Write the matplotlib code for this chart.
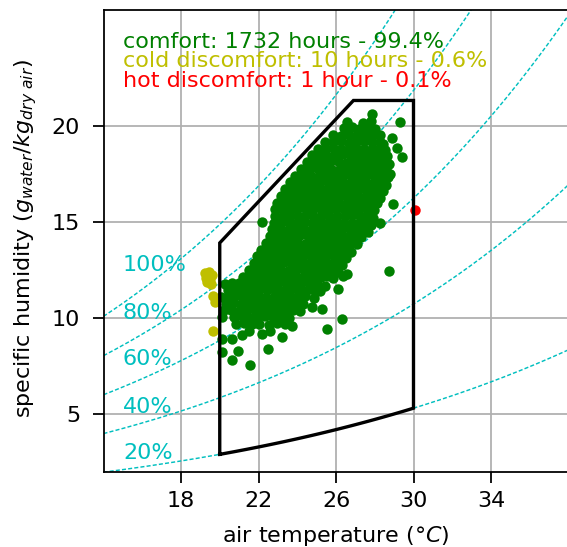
import numpy as np
import matplotlib
matplotlib.use("Agg")
import matplotlib.pyplot as plt

# ---------------- data ----------------
P_ATM = 100.0  # kPa
rh_levels = [20, 40, 60, 80, 100]
rh_labels = ["20%", "40%", "60%", "80%", "100%"]
rh_label_x = 15.0
rh_label_y = [2.68, 5.05, 7.56, 9.95, 12.46]

zone_t_min, zone_t_max = 20.0, 30.0
zone_left_top_w = 13.9
zone_top_corner_t = 26.9
zone_top_w = 21.3
zone_rh = 20

x_ticks = [18, 22, 26, 30, 34]
y_ticks = [5, 10, 15, 20]
x_lim = (14, 38)
y_lim = (2, 26)

comfort_upper = [
    (27.85, 20.62),
    (26.55, 20.2), (27.4, 20.15), (27.8, 20.25), (29.3, 20.2),
    (26.4, 19.85), (26.8, 19.9), (27.2, 19.82), (27.6, 19.88), (28.0, 19.8),
    (25.85, 19.5), (26.25, 19.45), (26.65, 19.52), (27.05, 19.48), (27.45, 19.5), (27.85, 19.45), (28.25, 19.52), (28.87, 19.35),
    (25.45, 19.15), (25.85, 19.12), (26.25, 19.18), (26.65, 19.1), (27.05, 19.15), (27.45, 19.2), (27.85, 19.12), (28.25, 19.15), (28.45, 19.05),
    (25.05, 18.8), (25.45, 18.78), (25.85, 18.84), (26.25, 18.8), (26.65, 18.76), (27.05, 18.82), (27.45, 18.8), (27.85, 18.78), (28.25, 18.85), (28.55, 18.75), (29.13, 18.83),
    (24.75, 18.45), (25.15, 18.48), (25.55, 18.42), (25.95, 18.45), (26.35, 18.5), (26.75, 18.44), (27.15, 18.46), (27.55, 18.42), (27.95, 18.48), (28.35, 18.45), (28.65, 18.4), (29.39, 18.35),
    (24.5, 18.1), (24.9, 18.12), (25.3, 18.08), (25.7, 18.1), (26.1, 18.14), (26.5, 18.06), (26.9, 18.1), (27.3, 18.12), (27.7, 18.08), (28.1, 18.1), (28.5, 18.12), (28.75, 18.0),
    (24.2, 17.75), (24.6, 17.72), (25.0, 17.78), (25.4, 17.75), (25.8, 17.7), (26.2, 17.76), (26.6, 17.74), (27.0, 17.78), (27.4, 17.72), (27.8, 17.75), (28.2, 17.78), (28.6, 17.7), (28.8, 17.5),
    (23.9, 17.4), (24.3, 17.42), (24.7, 17.38), (25.1, 17.4), (25.5, 17.44), (25.9, 17.36), (26.3, 17.4), (26.7, 17.42), (27.1, 17.38), (27.5, 17.4), (27.9, 17.44), (28.3, 17.38), (28.7, 17.3),
    (23.6, 17.05), (24.0, 17.08), (24.4, 17.02), (24.8, 17.05), (25.2, 17.1), (25.6, 17.04), (26.0, 17.06), (26.4, 17.02), (26.8, 17.08), (27.2, 17.05), (27.6, 17.02), (28.0, 17.06), (28.4, 17.04), (28.6, 16.9),
    (23.35, 16.7), (23.75, 16.72), (24.15, 16.68), (24.55, 16.7), (24.95, 16.74), (25.35, 16.66), (25.75, 16.7), (26.15, 16.72), (26.55, 16.68), (26.95, 16.7), (27.35, 16.74), (27.75, 16.68), (28.15, 16.7), (28.4, 16.6),
    (23.15, 16.35), (23.55, 16.38), (23.95, 16.32), (24.35, 16.35), (24.75, 16.4), (25.15, 16.34), (25.55, 16.36), (25.95, 16.32), (26.35, 16.38), (26.75, 16.35), (27.15, 16.32), (27.55, 16.36), (27.95, 16.34), (28.25, 16.25),
    (22.95, 16.0), (23.35, 16.02), (23.75, 15.98), (24.15, 16.0), (24.55, 16.04), (24.95, 15.96), (25.35, 16.0), (25.75, 16.02), (26.15, 15.98), (26.55, 16.0), (26.95, 16.04), (27.35, 15.98), (27.75, 16.0), (28.1, 15.95), (28.96, 15.9),
]

comfort_middle = [
    (22.85, 15.65), (23.2, 15.68), (23.6, 15.62), (24.0, 15.65), (24.4, 15.7), (24.8, 15.64), (25.2, 15.66), (25.6, 15.62), (26.0, 15.68), (26.4, 15.65), (26.8, 15.62), (27.2, 15.66), (27.6, 15.64), (27.95, 15.6),
    (22.85, 15.3), (23.25, 15.32), (23.65, 15.28), (24.05, 15.3), (24.45, 15.34), (24.85, 15.26), (25.25, 15.3), (25.65, 15.32), (26.05, 15.28), (26.45, 15.3), (26.85, 15.34), (27.25, 15.28), (27.6, 15.3), (27.9, 15.22),
    (22.17, 14.99), (22.8, 14.95), (23.2, 14.98), (23.6, 14.92), (24.0, 14.95), (24.4, 15.0), (24.8, 14.94), (25.2, 14.96), (25.6, 14.92), (26.0, 14.98), (26.4, 14.95), (26.8, 14.92), (27.2, 14.96), (27.55, 14.94), (27.8, 14.85), (28.27, 14.95),
    (22.7, 14.6), (23.1, 14.62), (23.5, 14.58), (23.9, 14.6), (24.3, 14.64), (24.7, 14.56), (25.1, 14.6), (25.5, 14.62), (25.9, 14.58), (26.3, 14.6), (26.7, 14.64), (27.1, 14.58), (27.45, 14.6), (27.65, 14.45),
    (22.6, 14.25), (22.95, 14.28), (23.35, 14.22), (23.75, 14.25), (24.15, 14.3), (24.55, 14.24), (24.95, 14.26), (25.35, 14.22), (25.75, 14.28), (26.15, 14.25), (26.55, 14.22), (26.95, 14.26), (27.3, 14.2),
    (22.4, 13.9), (22.8, 13.92), (23.2, 13.88), (23.6, 13.9), (24.0, 13.94), (24.4, 13.86), (24.8, 13.9), (25.2, 13.92), (25.6, 13.88), (26.0, 13.9), (26.4, 13.94), (26.75, 13.88), (27.07, 13.84),
    (22.15, 13.55), (22.55, 13.58), (22.95, 13.52), (23.35, 13.55), (23.75, 13.6), (24.15, 13.54), (24.55, 13.56), (24.95, 13.52), (25.35, 13.58), (25.75, 13.55), (26.15, 13.52), (26.5, 13.56), (26.75, 13.45),
    (21.9, 13.2), (22.3, 13.22), (22.7, 13.18), (23.1, 13.2), (23.5, 13.24), (23.9, 13.16), (24.3, 13.2), (24.7, 13.22), (25.1, 13.18), (25.5, 13.2), (25.9, 13.24), (26.25, 13.18), (26.5, 13.1),
    (21.75, 12.85), (22.1, 12.88), (22.5, 12.82), (22.9, 12.85), (23.3, 12.9), (23.7, 12.84), (24.1, 12.86), (24.5, 12.82), (24.9, 12.88), (25.3, 12.85), (25.7, 12.82), (26.05, 12.86), (26.3, 12.75),
    (21.5, 12.5), (21.9, 12.52), (22.3, 12.48), (22.7, 12.5), (23.1, 12.54), (23.5, 12.46), (23.9, 12.5), (24.3, 12.52), (24.7, 12.48), (25.1, 12.5), (25.5, 12.54), (25.85, 12.48), (26.1, 12.4), (26.55, 12.3), (28.73, 12.45),
    (21.2, 12.15), (21.6, 12.18), (22.0, 12.12), (22.4, 12.15), (22.8, 12.2), (23.2, 12.14), (23.6, 12.16), (24.0, 12.12), (24.4, 12.18), (24.8, 12.15), (25.2, 12.12), (25.55, 12.16), (25.85, 12.1), (26.35, 12.2),
]

comfort_lower = [
    (20.27, 11.77), (20.65, 11.8), (21.0, 11.82), (21.4, 11.78), (21.8, 11.8), (22.2, 11.84), (22.6, 11.76), (23.0, 11.8), (23.4, 11.82), (23.8, 11.78), (24.2, 11.8), (24.6, 11.84), (25.0, 11.76), (25.43, 11.68),
    (20.45, 11.45), (20.85, 11.48), (21.25, 11.42), (21.65, 11.45), (22.05, 11.5), (22.45, 11.44), (22.85, 11.46), (23.25, 11.42), (23.65, 11.48), (24.05, 11.45), (24.45, 11.42), (24.85, 11.46), (25.15, 11.38), (26.12, 11.5),
    (20.05, 11.08), (20.4, 11.1), (20.8, 11.12), (21.2, 11.08), (21.6, 11.1), (22.0, 11.14), (22.4, 11.06), (22.8, 11.1), (23.2, 11.12), (23.6, 11.08), (24.0, 11.1), (24.4, 11.14), (24.85, 11.05),
    (20.3, 10.75), (20.7, 10.78), (21.1, 10.72), (21.5, 10.75), (21.9, 10.8), (22.3, 10.74), (22.7, 10.76), (23.1, 10.72), (23.5, 10.78), (23.9, 10.75), (24.3, 10.72), (24.75, 10.56),
    (20.2, 10.4), (20.6, 10.42), (21.0, 10.38), (21.4, 10.4), (21.8, 10.44), (22.2, 10.36), (22.6, 10.4), (23.0, 10.42), (23.4, 10.38), (23.8, 10.4), (24.15, 10.35), (25.26, 10.48),
    (20.1, 10.04), (20.75, 10.05), (21.15, 10.08), (21.55, 10.02), (21.95, 10.05), (22.35, 10.1), (22.75, 10.04), (23.15, 10.06), (23.55, 10.0), (26.29, 9.96),
    (20.85, 9.7), (21.25, 9.72), (21.65, 9.68), (22.05, 9.7), (22.55, 9.66), (22.95, 9.72), (23.35, 9.68), (23.71, 9.61),
    (21.13, 9.1), (22.16, 9.18), (23.2, 9.0), (25.52, 9.44), (20.1, 8.93), (20.62, 8.92), (20.1, 8.23),
    (20.96, 8.31), (22.5, 8.4), (20.62, 7.8), (21.56, 7.54), (21.5, 9.35), (22.6, 9.3),
]

cold_temp = [19.25, 19.45, 19.3, 19.5, 19.35, 19.55, 19.6, 19.65, 19.75, 19.65]
cold_hum = [12.35, 12.4, 12.1, 12.05, 11.85, 11.75, 12.25, 11.15, 10.85, 9.35]
hot_temp = [30.1]
hot_hum = [15.6]

summary_texts = ["comfort: 1732 hours - 99.4%",
                 "cold discomfort: 10 hours - 0.6%",
                 "hot discomfort: 1 hour - 0.1%"]
summary_colors = ["green", "y", "r"]
summary_x = 15.0
summary_y = [24.05, 23.05, 22.0]


# ---------------- helpers ----------------
def psat(t):
    return 0.61094 * np.exp(17.625 * t / (t + 243.04))


def spec_hum(t, rh):
    pv = rh / 100.0 * psat(t)
    return 622.0 * pv / (P_ATM - pv)


# ---------------- figure ----------------
DPI = 160
fig = plt.figure(figsize=(567 / DPI, 547 / DPI), dpi=DPI)
ax = fig.add_axes([103.5 / 567, 75 / 547, 465 / 567, 462 / 547])

ax.grid(True, color="#b0b0b0", lw=0.8, zorder=0)
ax.set_axisbelow(True)

t_curve = np.linspace(x_lim[0], x_lim[1], 300)
for rh, lab, ly in zip(rh_levels, rh_labels, rh_label_y):
    ax.plot(t_curve, spec_hum(t_curve, rh), color="c", lw=0.65,
            linestyle=(0, (2.8, 1.5)), zorder=1)
    ax.text(rh_label_x, ly, lab, color="c", fontsize=10, va="baseline",
            ha="left", zorder=2)

# comfort zone polygon
t_bottom = np.linspace(zone_t_max, zone_t_min, 60)
w_bottom = spec_hum(t_bottom, zone_rh)
poly_t = np.concatenate([[zone_t_min, zone_t_min, zone_top_corner_t, zone_t_max, zone_t_max], t_bottom])
poly_w = np.concatenate([[spec_hum(zone_t_min, zone_rh), zone_left_top_w, zone_top_w, zone_top_w,
                          spec_hum(zone_t_max, zone_rh)], w_bottom])
ax.plot(poly_t, poly_w, color="k", lw=1.5, zorder=5, solid_joinstyle="miter")

comfort = np.array(comfort_upper + comfort_middle + comfort_lower)
ax.scatter(comfort[:, 0], comfort[:, 1], s=22, color="green", zorder=3, linewidths=0)
ax.scatter(cold_temp, cold_hum, s=22, color="y", zorder=3, linewidths=0)
ax.scatter(hot_temp, hot_hum, s=22, color="r", zorder=3, linewidths=0)

for txt, col, yy in zip(summary_texts, summary_colors, summary_y):
    ax.text(summary_x, yy, txt, color=col, fontsize=10, va="baseline", ha="left", zorder=6)

ax.set_xlim(*x_lim)
ax.set_ylim(*y_lim)
ax.set_xticks(x_ticks)
ax.set_yticks(y_ticks)
ax.tick_params(direction="out", length=5, width=0.8, labelsize=10, colors="k")
ax.tick_params(axis="x", pad=3.5)
ax.tick_params(axis="y", pad=5.5)
ax.spines["right"].set_visible(False)
ax.set_xlabel(r"air temperature ($\degree C$)", fontsize=10, labelpad=5.8)
ax.set_ylabel(r"specific humidity ($g_{water}/kg_{dry\ air}$)", fontsize=10)
ax.yaxis.set_label_coords(-0.139, 0.505)

fig.savefig("out.png", dpi=DPI)
